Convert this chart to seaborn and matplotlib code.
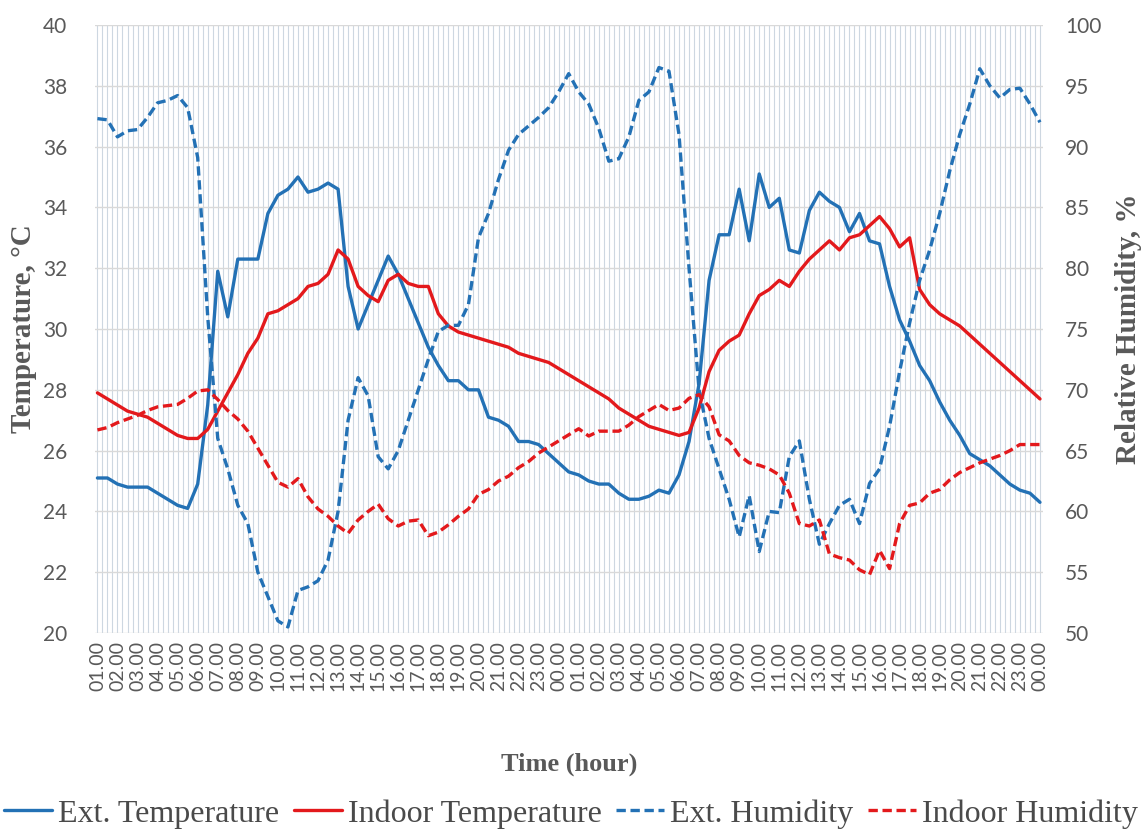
import numpy as np
import pandas as pd
import seaborn as sns
import matplotlib.pyplot as plt
from matplotlib.ticker import MultipleLocator

# half-hour readings over two days, first point at 01.00
ext_temp = [25.1, 25.1, 24.9, 24.8, 24.8, 24.8, 24.6, 24.4, 24.2, 24.1,
            24.9, 27.5, 31.9, 30.4, 32.3, 32.3, 32.3, 33.8, 34.4, 34.6,
            35.0, 34.5, 34.6, 34.8, 34.6, 31.4, 30.0, 30.8, 31.6, 32.4,
            31.8, 31.0, 30.2, 29.4, 28.8, 28.3, 28.3, 28.0, 28.0, 27.1,
            27.0, 26.8, 26.3, 26.3, 26.2, 25.9, 25.6, 25.3, 25.2, 25.0,
            24.9, 24.9, 24.6, 24.4, 24.4, 24.5, 24.7, 24.6, 25.2, 26.3,
            28.2, 31.6, 33.1, 33.1, 34.6, 32.9, 35.1, 34.0, 34.3, 32.6,
            32.5, 33.9, 34.5, 34.2, 34.0, 33.2, 33.8, 32.9, 32.8, 31.4,
            30.3, 29.6, 28.8, 28.3, 27.6, 27.0, 26.5, 25.9, 25.7, 25.5,
            25.2, 24.9, 24.7, 24.6, 24.3]

indoor_temp = [27.9, 27.7, 27.5, 27.3, 27.2, 27.1, 26.9, 26.7, 26.5, 26.4,
               26.4, 26.7, 27.3, 27.9, 28.5, 29.2, 29.7, 30.5, 30.6, 30.8,
               31.0, 31.4, 31.5, 31.8, 32.6, 32.3, 31.4, 31.1, 30.9, 31.6,
               31.8, 31.5, 31.4, 31.4, 30.5, 30.1, 29.9, 29.8, 29.7, 29.6,
               29.5, 29.4, 29.2, 29.1, 29.0, 28.9, 28.7, 28.5, 28.3, 28.1,
               27.9, 27.7, 27.4, 27.2, 27.0, 26.8, 26.7, 26.6, 26.5, 26.6,
               27.4, 28.6, 29.3, 29.6, 29.8, 30.5, 31.1, 31.3, 31.6, 31.4,
               31.9, 32.3, 32.6, 32.9, 32.6, 33.0, 33.1, 33.4, 33.7, 33.3,
               32.7, 33.0, 31.3, 30.8, 30.5, 30.3, 30.1, 29.8, 29.5, 29.2,
               28.9, 28.6, 28.3, 28.0, 27.7]

ext_hum = [92.3, 92.2, 90.8, 91.3, 91.4, 92.4, 93.6, 93.8, 94.2, 93.2,
           89.1, 76.0, 66.0, 63.5, 60.5, 59.0, 55.0, 53.0, 51.0, 50.5,
           53.5, 53.8, 54.3, 56.0, 60.0, 67.5, 71.0, 69.5, 64.5, 63.5,
           65.0, 67.5, 70.0, 72.5, 74.8, 75.3, 75.3, 77.0, 82.5, 84.5,
           87.3, 89.7, 91.0, 91.7, 92.4, 93.2, 94.5, 96.0, 94.5, 93.5,
           91.5, 88.8, 89.0, 90.8, 93.8, 94.5, 96.5, 96.2, 91.0, 80.0,
           70.0, 66.0, 63.5, 61.0, 57.9, 61.3, 56.7, 60.0, 59.9, 64.5,
           65.8, 61.0, 57.3, 59.0, 60.5, 61.0, 59.0, 62.3, 63.5, 67.0,
           71.5, 75.5, 79.0, 81.5, 84.5, 88.0, 91.0, 93.5, 96.4, 95.0,
           94.0, 94.7, 94.8, 93.5, 92.0]

indoor_hum = [66.7, 66.9, 67.3, 67.6, 67.9, 68.3, 68.6, 68.7, 68.8, 69.3,
              69.9, 70.0, 69.2, 68.3, 67.6, 66.6, 65.2, 63.8, 62.4, 62.0,
              62.7, 61.2, 60.2, 59.6, 58.8, 58.2, 59.3, 60.0, 60.6, 59.4,
              58.8, 59.2, 59.3, 58.0, 58.3, 58.9, 59.6, 60.2, 61.4, 61.8,
              62.5, 62.9, 63.6, 64.1, 64.8, 65.3, 65.8, 66.3, 66.8, 66.2,
              66.6, 66.6, 66.6, 67.1, 67.8, 68.3, 68.8, 68.3, 68.5, 69.3,
              69.6, 68.6, 66.3, 65.8, 64.6, 64.0, 63.8, 63.5, 63.0, 61.5,
              59.0, 58.8, 59.3, 56.5, 56.2, 56.0, 55.2, 54.8, 56.8, 55.3,
              59.0, 60.5, 60.7, 61.5, 61.8, 62.6, 63.2, 63.6, 64.0, 64.3,
              64.6, 65.0, 65.5, 65.5, 65.5]

hour_labels = ["%02d.00" % h for h in list(range(1, 24)) + [0]] * 2

hours = np.arange(len(ext_temp)) * 0.5

sns.set_theme(style="white")
plt.rcParams['font.family'] = ['Lato', 'DejaVu Sans']

blue = "#2371B5"
red = "#E3191C"
grey = "#595959"
serif = ['Liberation Serif', 'DejaVu Serif']

fig = plt.figure(figsize=(11.42, 8.30), dpi=100)
ax = fig.add_axes([0.0832, 0.2373, 0.8301, 0.7326])
ax2 = ax.twinx()

sns.lineplot(x=hours, y=ext_temp, ax=ax, color=blue, lw=2.4, label="Ext. Temperature")
sns.lineplot(x=hours, y=indoor_temp, ax=ax, color=red, lw=2.4, label="Indoor Temperature")
sns.lineplot(x=hours, y=ext_hum, ax=ax2, color=blue, lw=2.4, linestyle="--", label="Ext. Humidity")
sns.lineplot(x=hours, y=indoor_hum, ax=ax2, color=red, lw=2.4, linestyle="--", label="Indoor Humidity")
for ln in ax2.lines:
    ln.set_dashes([2.8, 1.4])

ax.set_ylim(20, 40)
ax2.set_ylim(50, 100)
ax.set_xlim(-0.12, 47.15)
ax.set_yticks(np.arange(20, 41, 2))
ax2.set_yticks(np.arange(50, 101, 5))
ax.set_xticks(np.arange(48))
ax.set_xticklabels(hour_labels, rotation=90)
ax.xaxis.set_minor_locator(MultipleLocator(0.25))

ax.grid(axis="y", color="#d9d9d9", lw=1.0)
ax.grid(axis="x", which="both", color="#cdd7e1", lw=0.8)
ax.set_axisbelow(True)
ax2.grid(False)
for a in (ax, ax2):
    for s in a.spines.values():
        s.set_visible(False)
    a.tick_params(length=0, which="both", colors=grey, labelsize=15)
ax.tick_params(axis="x", labelsize=14, pad=6)
ax.tick_params(axis="y", pad=20)
ax2.tick_params(axis="y", pad=16)

ax.set_ylabel("Temperature, °C", family=serif, fontsize=21, fontweight="bold",
              color=grey, labelpad=4)
ax2.set_ylabel("Relative Humidity, %", family=serif, fontsize=21, fontweight="bold",
               color=grey, rotation=90, labelpad=10)
ax.set_xlabel("Time (hour)", family=serif, fontsize=19, fontweight="bold",
              color=grey, labelpad=44)

h1, l1 = ax.get_legend_handles_labels()
h2, l2 = ax2.get_legend_handles_labels()
ax.get_legend().remove()
ax2.get_legend().remove()
fig.legend(h1 + h2, l1 + l2, loc="lower center", bbox_to_anchor=(0.5, -0.033), ncol=4,
           frameon=False, handlelength=1.5, handletextpad=0.2, columnspacing=0.45,
           prop={'family': serif, 'size': 23}, labelcolor="#4a4a4a")

fig.savefig("out.png", dpi=100)
